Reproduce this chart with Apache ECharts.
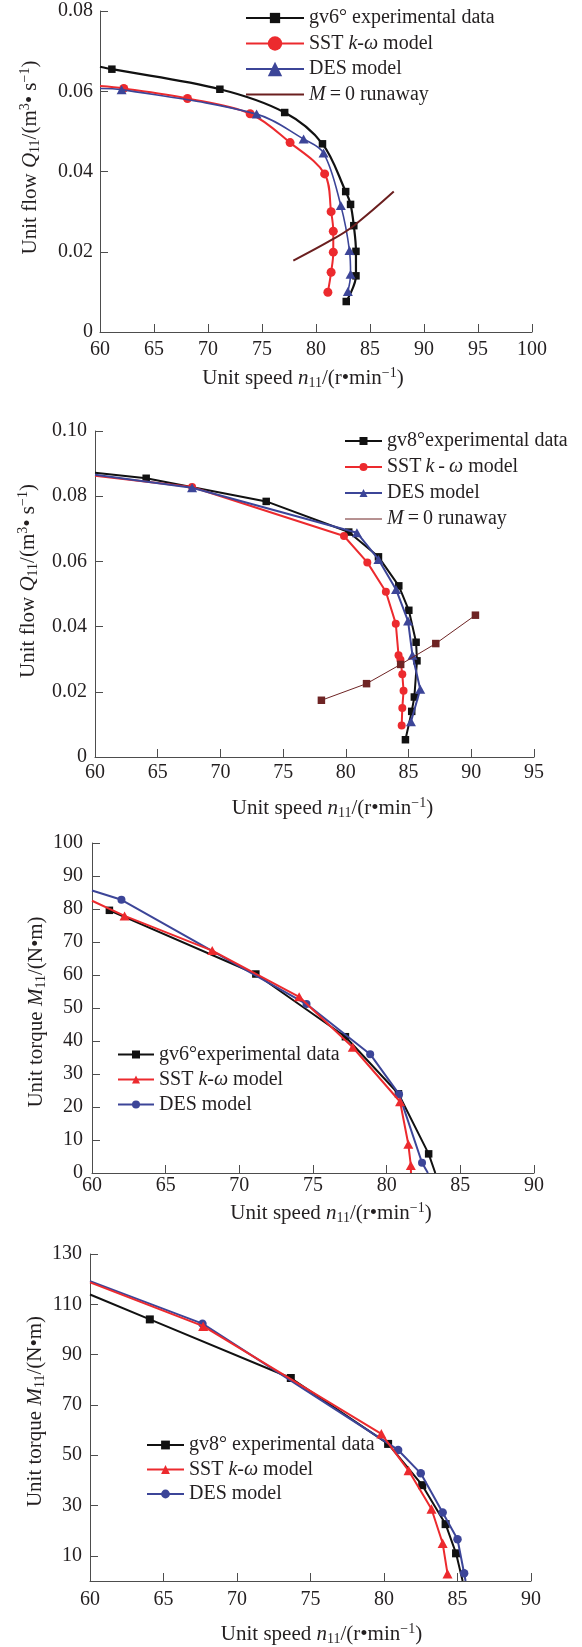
<!DOCTYPE html>
<html><head><meta charset="utf-8">
<script src="https://cdn.jsdelivr.net/npm/echarts@6/dist/echarts.min.js"></script>
<style>html,body{margin:0;padding:0;background:#fff}#c{width:582px;height:1647px}</style>
</head><body><div id="c"></div>
<script>
// ---------------- DATA ----------------
// Panel 1: gv6, unit flow Q11 vs unit speed n11
const p1_exp = [[61.1,0.0655],[71.1,0.0605],[77.1,0.0547],[80.6,0.0469],[82.75,0.0350],[83.2,0.0318],[83.5,0.0265],[83.7,0.0201],[83.7,0.0140],[82.8,0.0076]];
const p1_expStart = [60,0.0661];
const p1_sst = [[62.2,0.0607],[68.1,0.0582],[73.9,0.0544],[77.6,0.0472],[80.8,0.0394],[81.4,0.0300],[81.6,0.0251],[81.6,0.0199],[81.4,0.0149],[81.1,0.0099]];
const p1_sstStart = [60,0.0613];
const p1_des = [[62.0,0.0604],[74.5,0.0543],[78.85,0.0481],[80.7,0.0446],[82.3,0.0315],[83.1,0.0203],[83.2,0.0144],[82.95,0.0101]];
const p1_desStart = [60,0.0607];
const p1_run = [[77.9,0.0178],[81.6,0.0232],[83.5,0.0265],[87.2,0.0350]];

// Panel 2: gv8, unit flow
const p2_exp = [[64.08,0.0855],[73.65,0.0784],[80.23,0.0690],[82.6,0.0614],[84.22,0.0525],[85.02,0.0450],[85.6,0.0352],[85.67,0.0295],[85.46,0.0184],[85.25,0.0140],[84.75,0.0053]];
const p2_expStart = [60,0.0872];
const p2_sst = [[67.74,0.0828],[79.85,0.0678],[81.71,0.0597],[83.19,0.0507],[83.98,0.0409],[84.2,0.0312],[84.35,0.0298],[84.5,0.0254],[84.6,0.0203],[84.5,0.0150],[84.45,0.0097]];
const p2_sstStart = [60,0.0863];
const p2_des = [[67.74,0.0826],[80.88,0.0688],[82.6,0.0606],[84.0,0.0514],[84.96,0.0417],[85.31,0.0312],[85.93,0.0208],[85.19,0.0108]];
const p2_desStart = [60,0.0866];
const p2_run = [[78.05,0.0174],[81.65,0.0225],[84.37,0.0284],[87.17,0.0348],[90.33,0.0435]];

// Panel 3: gv6, unit torque M11
const p3_exp = [[61.18,79.6],[71.12,60.3],[77.2,41.3],[80.8,24.0],[82.85,5.8]];
const p3_expEnd = [83.3,0];
const p3_sst = [[62.21,77.9],[68.16,67.4],[74.06,53.4],[77.7,38.1],[80.91,21.6],[81.47,8.7],[81.64,2.3]];
const p3_sstStart = [60,82.5];
const p3_sstEnd = [81.65,0];
const p3_des = [[62.0,82.8],[74.56,51.2],[78.88,36.0],[80.84,23.9],[82.4,3.1]];
const p3_desStart = [60,85.6];
const p3_desEnd = [82.8,0];

// Panel 4: gv8, unit torque M11
const p4_exp = [[64.07,104.0],[73.66,80.7],[80.28,54.5],[82.6,38.1],[84.19,22.6],[84.9,11.0]];
const p4_expStart = [60,113.9];
const p4_expEnd = [85.35,0];
const p4_sst = [[67.7,101.3],[79.82,58.5],[81.67,43.9],[83.23,28.6],[83.99,15.0],[84.32,2.9]];
const p4_sstStart = [60,118.7];
const p4_des = [[67.65,102.3],[80.96,52.1],[82.5,42.8],[83.99,27.2],[85.0,16.6],[85.45,3.1]];
const p4_desStart = [60,119.2];
const p4_desEnd = [85.55,0];

// Tick label values for panel 4 torque axis
const p4_yTicks = [10,30,50,70,90,110,130];

// ---------------- STYLE ----------------
const FONT = '"Liberation Serif","Times New Roman",serif';
const TXT = '#231f20';
const AX = '#4d4d4d';
const C_EXP = '#111111', C_SST = '#ec2a2e', C_DES = '#3c4598', C_RUN = '#6b1f1f';
const SQ_PAD = 'path://M0,0 M14,14 M2,2 L12,2 L12,12 L2,12 Z';

const RICH = {
  r:{fontFamily:FONT,fontSize:21,color:TXT,lineHeight:24},
  i:{fontFamily:FONT,fontSize:21,color:TXT,lineHeight:24,fontStyle:'italic'},
  sub:{fontFamily:FONT,fontSize:14,color:TXT,lineHeight:11,verticalAlign:'bottom'},
  sup:{fontFamily:FONT,fontSize:14,color:TXT,lineHeight:13,verticalAlign:'top'}
};
const LRICH = {
  r:{fontFamily:FONT,fontSize:20,color:TXT,lineHeight:18},
  i:{fontFamily:FONT,fontSize:20,color:TXT,lineHeight:18,fontStyle:'italic'}
};
const XNAME = '{r|Unit speed }{i|n}{sub|11}{r|/(r•min}{sup|−1}{r|)}';
const QNAME = '{r|Unit flow }{i|Q}{sub|11}{r|/(m}{sup|3}{r|• s}{sup|−1}{r|)}';
const MNAME = '{r|Unit torque }{i|M}{sub|11}{r|/(N•m)}';

const LEG = {
  p1e:'{r|gv6° experimental data}', p1s:'{r|SST }{i|k-ω}{r| model}', p1d:'{r|DES model}', p1r:'{i|M}{r|\u2009=\u20090 runaway}',
  p2e:'{r|gv8°experimental data}', p2s:'{r|SST\u2009}{i|k\u2009-\u2009ω}{r| model}', p2d:'{r|DES model}', p2r:'{i|M}{r|\u2009=\u20090 runaway}',
  p3e:'{r|gv6°experimental data}', p3s:'{r|SST }{i|k-ω}{r| model}', p3d:'{r|DES model}',
  p4e:'{r|gv8° experimental data}', p4s:'{r|SST }{i|k-ω}{r| model}', p4d:'{r|DES model}'
};

function pad(shift){ return shift>=0 ? [0,0,0,2*shift] : [0,-2*shift,0,0]; }

function xAxis(gi,min,max,margin,gap,shift){
  return {gridIndex:gi,type:'value',min:min,max:max,interval:5,
    axisLine:{show:true,onZero:false,lineStyle:{color:AX,width:1}},
    axisTick:{show:true,inside:true,length:8,lineStyle:{color:AX,width:1}},
    axisLabel:{margin:margin,fontFamily:FONT,fontSize:20,color:TXT},
    splitLine:{show:false},
    name:XNAME,nameLocation:'middle',nameGap:gap,nameMoveOverlap:false,
    nameTextStyle:{fontFamily:FONT,fontSize:21,color:TXT,padding:pad(shift),rich:RICH}};
}
function yAxis(gi,min,max,interval,name,gap,shiftUp,fmt,margin,extra){
  const a = {gridIndex:gi,type:'value',min:min,max:max,interval:interval,
    axisLine:{show:true,onZero:false,lineStyle:{color:AX,width:1}},
    axisTick:{show:true,inside:true,length:8,lineStyle:{color:AX,width:1}},
    axisLabel:{margin:margin,fontFamily:FONT,fontSize:20,color:TXT,formatter:fmt},
    splitLine:{show:false},
    name:name,nameLocation:'middle',nameRotate:90,nameGap:gap,nameMoveOverlap:false,
    nameTextStyle:{fontFamily:FONT,fontSize:21,color:TXT,padding:pad(shiftUp),rich:RICH}};
  if(extra){ Object.assign(a.axisLabel,extra.label||{}); Object.assign(a.axisTick,extra.tick||{}); }
  return a;
}
const flowFmt = v => v===0 ? '0' : v.toFixed(2);

function pts(start, arr, end){
  const d = [];
  if(start) d.push({value:start,symbol:'none'});
  arr.forEach(p=>d.push(p));
  if(end) d.push({value:end,symbol:'none'});
  return d;
}
function line(name,gi,data,color,symbol,size,width,smooth,z){
  return {name:name,type:'line',xAxisIndex:gi,yAxisIndex:gi,data:data,
    symbol:symbol,symbolSize:size,showSymbol:symbol!=='none',smooth:smooth||false,
    lineStyle:{color:color,width:width},itemStyle:{color:color,borderWidth:0},
    emphasis:{disabled:true},z:z||2,animation:false,clip:true};
}
function legend(names,left,top,iw,ih,gap,extra){
  return {data:names.map(n=>Object.assign({name:n},(extra&&extra[n])||{})),
    orient:'vertical',left:left,top:top,itemWidth:iw,itemHeight:ih,itemGap:gap,padding:0,
    selectedMode:false,formatter:n=>LEG[n],
    textStyle:{fontFamily:FONT,fontSize:20,color:TXT,lineHeight:18,rich:LRICH}};
}

const option = {
  backgroundColor:'#fff',
  animation:false,
  grid:[
    {left:100,top:11,width:432,height:321,outerBoundsMode:'none',containLabel:false},
    {left:95,top:431,width:439,height:326,outerBoundsMode:'none',containLabel:false},
    {left:92,top:843,width:442,height:330,outerBoundsMode:'none',containLabel:false},
    {left:90,top:1254,width:441,height:327,outerBoundsMode:'none',containLabel:false}
  ],
  xAxis:[
    xAxis(0,60,100,8,34,-13),
    xAxis(1,60,95,6,39,18),
    xAxis(2,60,90,3,28,18),
    xAxis(3,60,90,9,41,11)
  ],
  yAxis:[
    yAxis(0,0,0.08,0.02,QNAME,58,14,flowFmt,7),
    yAxis(1,0,0.10,0.02,QNAME,55,13,flowFmt,8),
    yAxis(2,0,100,10,MNAME,44,-4,null,9),
    yAxis(3,0,130,10,MNAME,43,6,null,8,{label:{customValues:p4_yTicks},tick:{customValues:p4_yTicks}})
  ],
  legend:[
    legend(['p1e','p1s','p1d','p1r'],245,8,58,18,5.5,{p1r:{itemStyle:{opacity:0,color:'rgba(0,0,0,0)'}}}),
    legend(['p2e','p2s','p2d','p2r'],344,431,37,10,6,{p2r:{itemStyle:{opacity:0,color:'rgba(0,0,0,0)'},lineStyle:{width:1}}}),
    legend(['p3e','p3s','p3d'],117,1044.5,36,10,5),
    legend(['p4e','p4s','p4d'],146,1435,37,11,4.5)
  ],
  series:[
    line('p1e',0,pts(p1_expStart,p1_exp),C_EXP,SQ_PAD,10.5,2.2,0.35,2),
    line('p1s',0,pts(p1_sstStart,p1_sst),C_SST,'circle',9,2,0.35,3),
    line('p1d',0,pts(p1_desStart,p1_des),C_DES,'triangle',[10,9],1.6,0.35,4),
    line('p1r',0,p1_run,C_RUN,'none',0,2,0.4,5),

    line('p2e',1,pts(p2_expStart,p2_exp),C_EXP,'rect',7.5,2,false,2),
    line('p2s',1,pts(p2_sstStart,p2_sst),C_SST,'circle',8,2,false,3),
    line('p2d',1,pts(p2_desStart,p2_des),C_DES,'triangle',[10,9],2,false,4),
    line('p2r',1,p2_run,'#6e2424','rect',7.5,1,false,5),

    line('p3e',2,pts(null,p3_exp,p3_expEnd),C_EXP,'rect',7.5,2,false,2),
    line('p3d',2,pts(p3_desStart,p3_des,p3_desEnd),C_DES,'circle',8,2,false,3),
    line('p3s',2,pts(p3_sstStart,p3_sst,p3_sstEnd),C_SST,'triangle',[10,9],2,false,4),

    line('p4e',3,pts(p4_expStart,p4_exp,p4_expEnd),C_EXP,'rect',8,2,false,2),
    line('p4d',3,pts(p4_desStart,p4_des,p4_desEnd),C_DES,'circle',8.5,2,false,3),
    line('p4s',3,pts(p4_sstStart,p4_sst),C_SST,'triangle',[10,9.5],2,false,4)
  ]
};
const chart = echarts.init(document.getElementById('c'),null,{renderer:'canvas'});
chart.setOption(option);
</script>
</body></html>
